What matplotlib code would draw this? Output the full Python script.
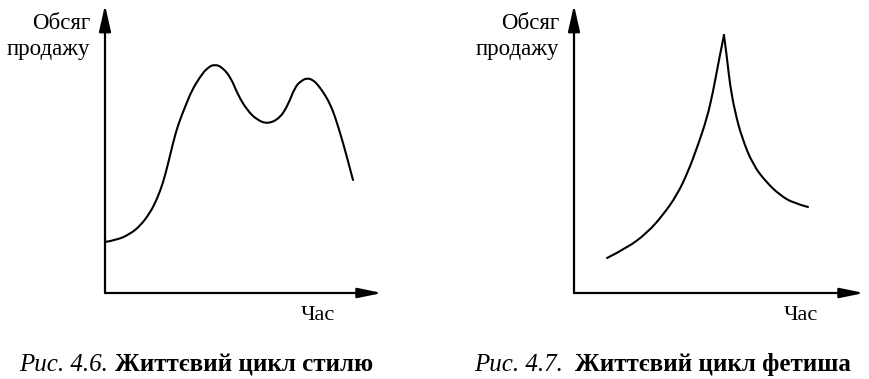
"""
Style and fetish life cycle curves (Рис. 4.6 / 4.7)
"""

import matplotlib
matplotlib.use("Agg")
import matplotlib.pyplot as plt
from matplotlib.path import Path
from matplotlib.patches import PathPatch

# values, in pixels from the axes origin
time_style = [0, 12, 25, 35, 45, 52, 58, 63, 68, 73, 80, 87, 95, 102, 110, 118, 126, 133,
              142, 152, 163, 175, 183, 190, 196, 202, 208, 213, 218, 223, 228, 232, 236,
              240, 244, 248]
sales_style = [51, 53, 59, 67, 80, 94, 110, 129, 150, 168, 186, 203, 216, 225, 229, 225,
               215, 198, 183, 173, 169, 175, 188, 206, 212, 215, 213, 208, 201, 193, 182,
               170, 157, 143, 128, 113]

time_fetish = [33, 53, 73, 89, 103, 114, 124, 133, 139, 144, 148, 150, 153, 156, 161, 168,
               179, 193, 206, 219, 234]
sales_fetish = [35, 45, 60, 78, 98, 121, 148, 175, 201, 228, 248, 258, 235, 208, 181, 155,
                128, 110, 98, 90, 86]
fetish_peak = 11  # index of the sharp top

panels = [
    # axes rect (origin x, origin y, x length, y length), data, breaks, label x, caption parts
    ([105, 293, 277, 288], time_style, sales_style, [], 196, 108, 115,
     "Рис. 4.6.", "Життєвий цикл стилю"),
    ([574, 293, 290, 288], time_fetish, sales_fetish, [fetish_peak], 210, 563, 575,
     "Рис. 4.7.", "Життєвий цикл фетиша"),
]


def smooth_path(xs, ys):
    # quadratic bezier through the midpoints, the read points act as control points
    pts = list(zip(xs, ys))
    verts = [pts[0]]
    codes = [Path.MOVETO]
    for i in range(1, len(pts) - 2):
        mid = ((pts[i][0] + pts[i + 1][0]) / 2, (pts[i][1] + pts[i + 1][1]) / 2)
        verts += [pts[i], mid]
        codes += [Path.CURVE3, Path.CURVE3]
    verts += [pts[-2], pts[-1]]
    codes += [Path.CURVE3, Path.CURVE3]
    return Path(verts, codes)


W, H = 870, 379
fig = plt.figure(figsize=(W / 100, H / 100), dpi=100)
plt.rcParams["font.family"] = ["Liberation Serif", "DejaVu Serif"]

for rect, xs, ys, breaks, time_x, it_end, bold_start, cap_it, cap_bold in panels:
    x0, y0, w, h = rect
    ax = fig.add_axes([x0 / W, (H - y0) / H, w / W, h / H])
    ax.set_xlim(0, w)
    ax.set_ylim(0, h)
    ax.axis("off")

    ax.annotate("", xy=(w, 0), xytext=(0, 0), annotation_clip=False,
                arrowprops=dict(arrowstyle="-|>,head_length=1.45,head_width=0.3",
                                color="black", lw=1.6, shrinkA=0, shrinkB=0,
                                mutation_scale=10))
    ax.annotate("", xy=(0, h), xytext=(0, 0), annotation_clip=False,
                arrowprops=dict(arrowstyle="-|>,head_length=1.6,head_width=0.36",
                                color="black", lw=1.6, shrinkA=0, shrinkB=0,
                                mutation_scale=10))

    # split the curve at sharp corners, smooth each piece
    cuts = [0] + breaks + [len(xs) - 1]
    for a, b in zip(cuts[:-1], cuts[1:]):
        patch = PathPatch(smooth_path(xs[a:b + 1], ys[a:b + 1]), facecolor="none",
                          edgecolor="black", linewidth=1.5, clip_on=False,
                          capstyle="round", joinstyle="round")
        ax.add_patch(patch)

    ax.text(-15, 264, "Обсяг", ha="right", va="baseline", fontsize=16.5)
    ax.text(-15, 238, "продажу", ha="right", va="baseline", fontsize=16.5)
    ax.text(time_x, -27, "Час", ha="left", va="baseline", fontsize=16)

    fig.text(it_end / W, (H - 371) / H, cap_it, ha="right", va="baseline",
             fontsize=18, style="italic")
    fig.text(bold_start / W, (H - 371) / H, cap_bold, ha="left", va="baseline",
             fontsize=18, weight="bold")

fig.savefig("out.png", dpi=100)
